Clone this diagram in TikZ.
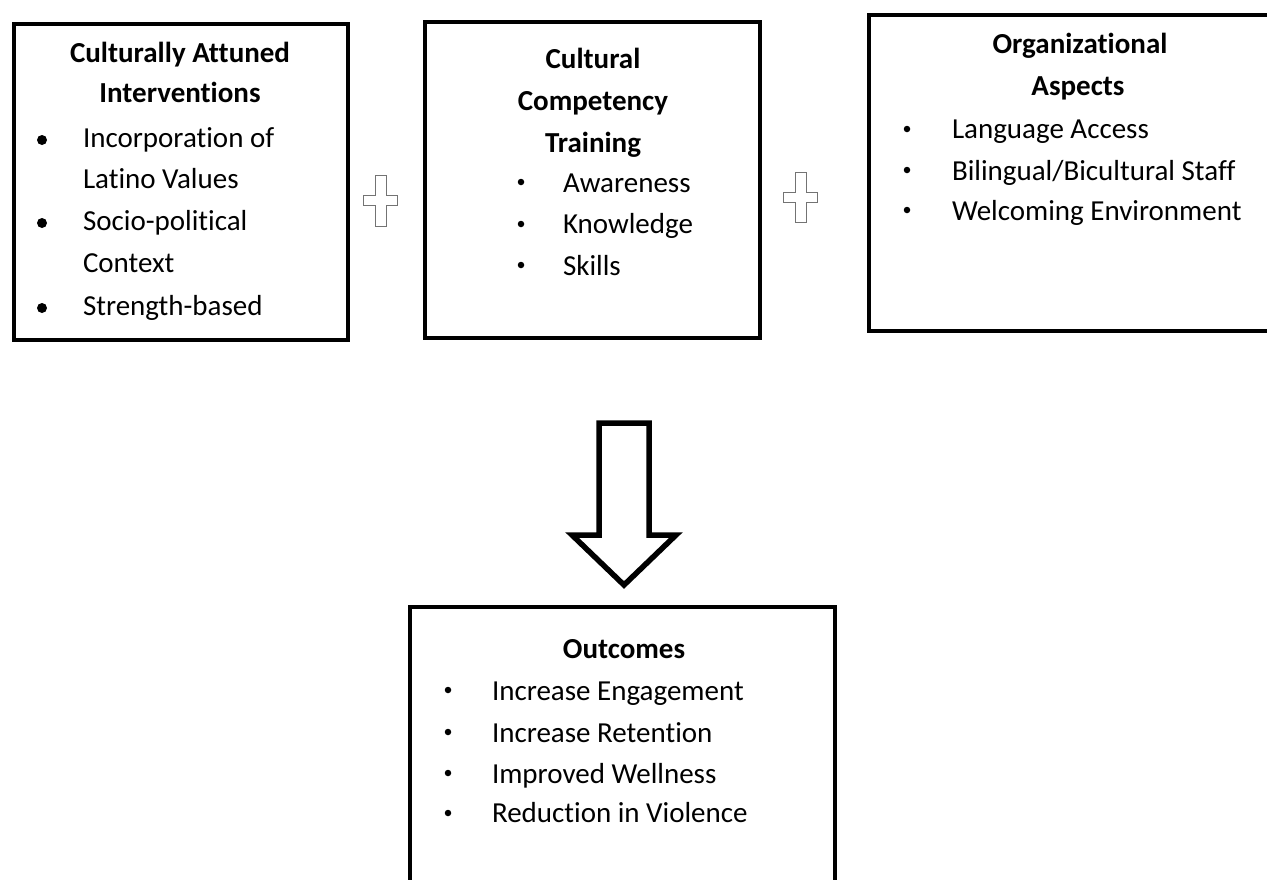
\documentclass[tikz,border=0pt]{standalone}
\usepackage{fontspec}
\setmainfont{Carlito}[Ligatures=NoCommon]
\begin{document}
\begin{tikzpicture}[x=1pt,y=-1pt,
  box/.style={draw=black,line width=4pt,inner sep=0pt,outer sep=0pt},
  txt/.style={inner sep=0pt,outer sep=0pt,font=\fontsize{29}{42}\selectfont},
  title/.style={txt,font=\fontsize{29}{42}\selectfont\bfseries,anchor=base},
  item/.style={txt,anchor=base west},
  bigdot/.style={circle,fill=black,inner sep=0pt,minimum size=10pt},
  smalldot/.style={circle,fill=black,inner sep=0pt,minimum size=6.5pt},
  crossline/.style={draw=black!55,line width=1pt,line join=miter},
  bigarrow/.style={draw=black,line width=5.5pt,line join=miter,fill=white}
]
\useasboundingbox (0,0) rectangle (1267,879);
\clip (0,0) rectangle (1267,879);

% ---------- Box 1 ----------
\node[box,minimum width=334pt,minimum height=316pt] (b1) at (181,182) {};
\node[title] (b1t1) at (180,62) {Culturally Attuned};
\node[title] (b1t2) at (180,102) {Interventions};
\node[bigdot] (b1d1) at (42,140) {};
\node[item] (b1i1) at (83,147) {Incorporation of};
\node[item] (b1i1b) at (83,188) {Latino Values};
\node[bigdot] (b1d2) at (42,223) {};
\node[item] (b1i2) at (83,230) {Socio-political};
\node[item] (b1i2b) at (83,272) {Context};
\node[bigdot] (b1d3) at (42,308) {};
\node[item] (b1i3) at (83,315) {Strength-based};

% ---------- Box 2 ----------
\node[box,minimum width=335pt,minimum height=316pt] (b2) at (592.5,180) {};
\node[title] (b2t1) at (593,68) {Cultural};
\node[title] (b2t2) at (593,110) {Competency};
\node[title] (b2t3) at (593,152) {Training};
\node[smalldot] (b2d1) at (521,182) {};
\node[item] (b2i1) at (563,192) {Awareness};
\node[smalldot] (b2d2) at (521,224) {};
\node[item] (b2i2) at (563,233) {Knowledge};
\node[smalldot] (b2d3) at (521,265) {};
\node[item] (b2i3) at (563,275) {Skills};

% ---------- Box 3 ----------
\node[box,minimum width=420pt,minimum height=316pt] (b3) at (1079,173) {};
\node[title] (b3t1) at (1080,53) {Organizational};
\node[title] (b3t2) at (1078,95) {Aspects};
\node[smalldot] (b3d1) at (907,129) {};
\node[item] (b3i1) at (952,138) {Language Access};
\node[smalldot] (b3d2) at (907,170) {};
\node[item] (b3i2) at (952,180) {Bilingual/Bicultural Staff};
\node[smalldot] (b3d3) at (907,210) {};
\node[item] (b3i3) at (952,220) {Welcoming Environment};

% ---------- Outcomes ----------
\node[box,minimum width=425pt,minimum height=320pt] (b4) at (622.5,767) {};
\node[title] (b4t) at (624,658) {Outcomes};
\node[smalldot] (b4d1) at (448,690) {};
\node[item] (b4i1) at (492,700) {Increase Engagement};
\node[smalldot] (b4d2) at (448,732) {};
\node[item] (b4i2) at (492,742) {Increase Retention};
\node[smalldot] (b4d3) at (448,773) {};
\node[item] (b4i3) at (492,783) {Improved Wellness};
\node[smalldot] (b4d4) at (448,813) {};
\node[item] (b4i4) at (492,822) {Reduction in Violence};

% ---------- plus signs ----------
\draw[crossline] (375.5,175.5) -- (386.5,175.5) -- (386.5,195.5) -- (397.5,195.5)
  -- (397.5,205.5) -- (386.5,205.5) -- (386.5,226.5) -- (375.5,226.5)
  -- (375.5,205.5) -- (363.5,205.5) -- (363.5,195.5) -- (375.5,195.5) -- cycle;
\draw[crossline] (795.5,172.5) -- (806.5,172.5) -- (806.5,192.5) -- (817.5,192.5)
  -- (817.5,202.5) -- (806.5,202.5) -- (806.5,222.5) -- (795.5,222.5)
  -- (795.5,202.5) -- (783.5,202.5) -- (783.5,192.5) -- (795.5,192.5) -- cycle;

% ---------- down arrow ----------
\draw[bigarrow] (599,423) -- (649,423) -- (649,535) -- (676,535)
  -- (624,585) -- (572,535) -- (599,535) -- cycle;
\end{tikzpicture}
\end{document}
